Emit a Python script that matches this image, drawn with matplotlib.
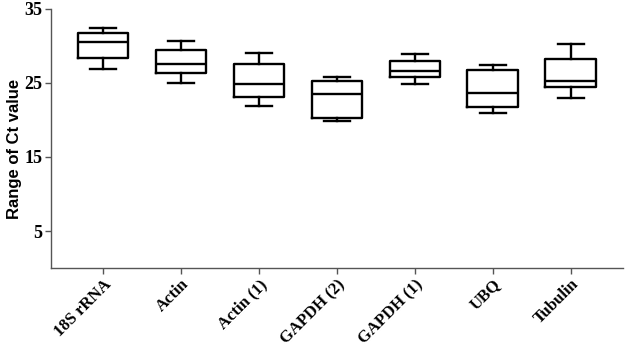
import matplotlib
matplotlib.use("Agg")
import matplotlib.pyplot as plt

# Reference genes and box statistics (Ct values)
genes = ["18S rRNA", "Actin", "Actin (1)", "GAPDH (2)", "GAPDH (1)", "UBQ", "Tubulin"]
whisker_low = [26.9, 25.0, 21.9, 19.8, 24.9, 20.9, 22.9]
q1 = [28.4, 26.3, 23.1, 20.2, 25.8, 21.8, 24.5]
median = [30.5, 27.5, 24.9, 23.5, 26.6, 23.6, 25.2]
q3 = [31.7, 29.4, 27.6, 25.3, 28.0, 26.8, 28.3]
whisker_high = [32.4, 30.6, 29.0, 25.8, 28.9, 27.4, 30.3]
y_ticks = [5, 15, 25, 35]

stats = []
for i in range(len(genes)):
    stats.append({
        "label": genes[i],
        "whislo": whisker_low[i],
        "q1": q1[i],
        "med": median[i],
        "q3": q3[i],
        "whishi": whisker_high[i],
        "fliers": [],
    })

fig = plt.figure(figsize=(6.28, 3.56), dpi=100)
ax = fig.add_axes([0.081, 0.247, 0.911, 0.728])

line = dict(color="black", linewidth=1.7)
ax.bxp(stats, positions=range(1, len(genes) + 1), widths=0.65,
       boxprops=line, medianprops=line, whiskerprops=line, capprops=line,
       capwidths=0.33, showfliers=False)

ax.set_xlim(0.33, 7.67)
ax.set_ylim(0, 35)
ax.set_yticks(y_ticks)
ax.set_yticklabels([str(t) for t in y_ticks], family="Liberation Serif",
                   fontweight="bold", fontsize=13)
ax.set_xticks(range(1, len(genes) + 1))
ax.set_xticklabels(genes, rotation=45, ha="right", rotation_mode="anchor",
                   family="Liberation Serif", fontweight="bold", fontsize=12)

for side in ["top", "right"]:
    ax.spines[side].set_visible(False)
for side in ["left", "bottom"]:
    ax.spines[side].set_color("#555555")
    ax.spines[side].set_linewidth(1.0)
ax.tick_params(direction="out", length=4, width=1, color="#555555", pad=2)

ax.set_ylabel("Range of Ct value", family="Liberation Sans", fontweight="bold",
              fontsize=12, labelpad=5)
ax.yaxis.set_label_coords(-0.05, 0.46)

fig.savefig("out.png", dpi=100)
